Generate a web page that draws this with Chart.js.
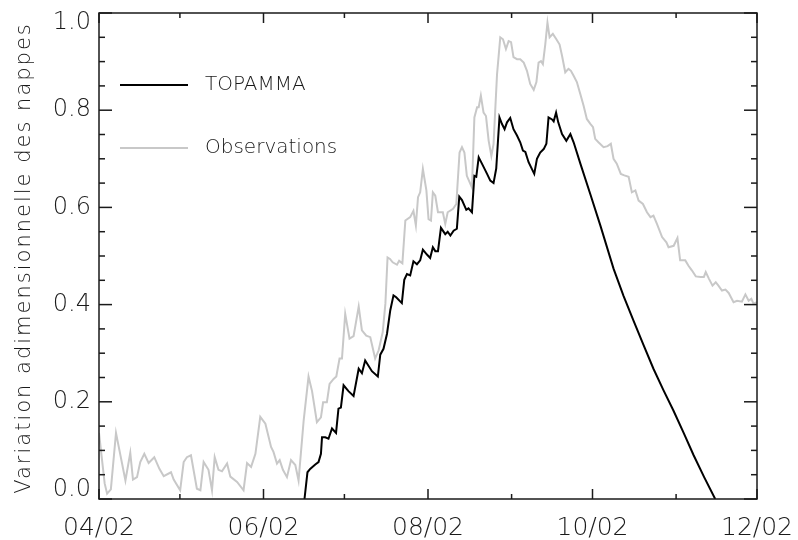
<!DOCTYPE html>
<html><head><meta charset="utf-8">
<script src="https://cdn.jsdelivr.net/npm/chart.js@4.4.0/dist/chart.umd.min.js"></script>
<style>html,body{margin:0;padding:0;background:#fff}#wrap{width:798px;height:540px}</style>
</head><body><div id="wrap"><canvas id="c" width="798" height="540"></canvas></div>
<script>
// x values are days counted from 1 April 2002
const monthTicks = [0,30,61,91,122,153,183,214,244];
const monthLabels = ['04/02','05/02','06/02','07/02','08/02','09/02','10/02','11/02','12/02'];
const yTicks = [0,0.2,0.4,0.6,0.8,1.0];
const yLabels = ['0.0','0.2','0.4','0.6','0.8','1.0'];
const yTitle = 'Variation adimensionnelle des nappes';
const seriesNames = ['TOPAMMA','Observations'];

const obsDays = [0,2.1,3.0,4.4,6.3,9.8,11.6,12.6,14.1,15.3,
16.8,18.4,20.5,22.4,24.0,26.7,27.7,30.1,31.4,32.6,
34.1,36.3,37.6,38.8,40.6,41.9,42.9,44.3,45.6,47.5,
48.7,51.2,53.6,54.9,56.4,58.0,59.8,61.7,63.8,64.7,
66.0,67.0,68.2,69.7,71.2,72.8,74.0,75.9,77.7,79.0,
80.8,82.3,83.1,84.5,85.5,87.0,88.0,89.2,90.1,91.3,
92.9,94.4,96.3,97.5,99.1,100.6,102.4,103.7,105.2,106.2,
107.0,107.9,108.9,110.5,111.3,112.5,113.6,115.4,116.6,117.5,
118.3,119.1,120.1,121.4,122.2,123.1,123.8,124.7,125.7,127.5,
128.4,129.3,131.3,132.5,133.7,134.6,135.5,136.4,138.3,139.2,
140.2,140.8,141.6,142.6,143.5,144.5,145.5,146.3,147.6,148.8,
149.8,150.9,151.9,152.8,153.7,155.0,156.2,157.5,158.7,159.9,
161.2,162.2,163.0,163.9,164.6,165.5,166.3,167.1,168.3,169.6,
170.8,171.7,172.9,174.1,175.0,176.0,177.2,178.5,179.7,180.9,
182.2,183.2,184.0,185.2,187.1,188.6,189.8,190.8,192.0,193.5,
194.8,196.4,197.6,198.9,200.1,201.7,203.2,204.5,205.6,206.9,
208.8,210.4,211.2,213.1,214.5,215.5,217.4,218.6,219.9,221.3,
223.1,224.3,225.0,226.2,227.5,228.7,229.7,231.0,232.3,233.5,
235.3,236.6,238.4,239.7,240.9,241.9,242.7,244.0];
const obsValues = [0.136,0.032,0.011,0.020,0.136,0.038,0.095,0.040,0.045,0.076,
0.093,0.074,0.086,0.062,0.047,0.055,0.040,0.018,0.076,0.086,
0.090,0.021,0.018,0.076,0.060,0.018,0.086,0.060,0.057,0.073,
0.046,0.035,0.018,0.074,0.066,0.093,0.169,0.155,0.107,0.097,
0.073,0.080,0.060,0.045,0.080,0.070,0.038,0.162,0.252,0.222,
0.158,0.168,0.199,0.199,0.237,0.247,0.252,0.289,0.289,0.381,
0.330,0.335,0.396,0.347,0.336,0.333,0.289,0.306,0.343,0.402,
0.497,0.494,0.487,0.482,0.490,0.485,0.573,0.580,0.593,0.563,
0.621,0.631,0.679,0.635,0.576,0.573,0.631,0.624,0.590,0.590,
0.566,0.590,0.597,0.607,0.713,0.724,0.713,0.665,0.641,0.785,
0.806,0.806,0.830,0.795,0.788,0.737,0.706,0.730,0.874,0.950,
0.946,0.926,0.942,0.940,0.909,0.905,0.905,0.898,0.881,0.854,
0.842,0.858,0.898,0.901,0.895,0.936,0.980,0.950,0.957,0.946,
0.935,0.912,0.878,0.885,0.881,0.871,0.858,0.833,0.809,0.782,
0.772,0.765,0.741,0.734,0.724,0.726,0.731,0.700,0.690,0.669,
0.666,0.663,0.631,0.635,0.614,0.607,0.590,0.580,0.583,0.566,
0.539,0.528,0.518,0.521,0.537,0.491,0.491,0.480,0.470,0.458,
0.457,0.457,0.467,0.453,0.439,0.446,0.439,0.429,0.431,0.424,
0.405,0.408,0.406,0.421,0.408,0.412,0.402,0.405];

const topDays = [76.2,77.1,77.3,78.3,80.2,81.4,82.3,82.7,83.9,85.1,
86.4,87.9,88.8,89.7,90.7,92.5,94.4,96.3,97.5,98.7,
101.2,103.4,104.3,105.5,106.8,108.0,109.2,110.2,112.3,113.2,
114.2,115.4,116.6,117.9,119.1,120.1,121.6,122.8,123.8,124.7,
125.7,126.8,128.4,129.3,130.3,131.5,132.7,133.6,134.6,136.2,
137.0,138.3,139.2,139.9,140.8,142.0,143.9,145.1,146.3,147.3,
148.5,149.4,150.4,151.3,152.5,153.7,155.0,156.2,157.2,158.1,
159.3,161.4,162.4,163.6,164.9,165.9,166.7,168.0,168.6,169.5,
170.3,171.7,173.3,174.8,176.0,178.5,182.2,185.9,190.8,194.5,
198.2,201.9,205.6,209.3,213.0,216.8,220.5,224.4,228.5];
const topValues = [0.0,0.045,0.055,0.062,0.071,0.076,0.093,0.127,0.127,0.124,
0.145,0.136,0.186,0.188,0.234,0.222,0.212,0.268,0.259,0.285,
0.263,0.252,0.297,0.309,0.340,0.388,0.419,0.415,0.403,0.451,
0.463,0.460,0.489,0.483,0.491,0.513,0.503,0.496,0.518,0.510,
0.510,0.558,0.545,0.550,0.542,0.552,0.556,0.622,0.615,0.595,
0.598,0.590,0.665,0.663,0.703,0.690,0.669,0.655,0.650,0.680,
0.785,0.772,0.761,0.775,0.784,0.761,0.748,0.734,0.717,0.714,
0.693,0.669,0.700,0.713,0.720,0.731,0.785,0.781,0.777,0.795,
0.775,0.751,0.737,0.751,0.734,0.690,0.627,0.563,0.474,0.418,
0.367,0.317,0.268,0.224,0.182,0.136,0.090,0.045,0.0];

const FONT = "'DejaVu Sans'";
const INK = '#1a1a1a';

const framePlugin = {
  id: 'frame',
  beforeDraw(chart) {
    // keep the end labels of the value axis inside the frame, as in the original
    const y = chart.scales.y;
    const items = y.getLabelItems(chart.chartArea);
    if (items.length) {
      items[0].options.translation[1] -= 9;
      items[items.length - 1].options.translation[1] += 10;
    }
  },
  afterDatasetsDraw(chart) {
    const {ctx, chartArea: a, scales: {x, y}} = chart;
    const seg = (x1, y1, x2, y2) => { ctx.beginPath(); ctx.moveTo(x1, y1); ctx.lineTo(x2, y2); ctx.stroke(); };
    ctx.save();
    ctx.strokeStyle = INK;
    ctx.lineWidth = 1.5;
    ctx.strokeRect(a.left, a.top, a.right - a.left, a.bottom - a.top);
    monthTicks.forEach((v, i) => {
      const px = x.getPixelForValue(v);
      const len = i % 2 === 0 ? 10 : 5;
      seg(px, a.bottom, px, a.bottom - len);
      seg(px, a.top, px, a.top + len);
    });
    for (let k = 0; k <= 20; k++) {
      const py = y.getPixelForValue(k * 0.05);
      const len = k % 4 === 0 ? 13 : 6;
      seg(a.left, py, a.left + len, py);
      seg(a.right, py, a.right - len, py);
    }
    ctx.restore();
  },
  afterDraw(chart) {
    // y axis title with wide letter spacing
    const {ctx, chartArea: a} = chart;
    ctx.save();
    ctx.translate(25, (a.top + a.bottom) / 2 + 2);
    ctx.rotate(-Math.PI / 2);
    ctx.font = '200 21px ' + FONT;
    ctx.letterSpacing = '2px';
    ctx.fillStyle = INK;
    ctx.textAlign = 'center';
    ctx.textBaseline = 'middle';
    ctx.fillText(yTitle, 0, 0);
    ctx.restore();
  }
};

const legendPlugin = {
  id: 'insideLegend',
  afterDraw(chart) {
    const ctx = chart.ctx;
    const rows = [85, 148];
    ctx.save();
    chart.data.datasets.forEach((ds, i) => {
      const yy = rows[i];
      ctx.strokeStyle = ds.borderColor;
      ctx.lineWidth = ds.borderWidth;
      ctx.beginPath(); ctx.moveTo(120, yy); ctx.lineTo(188, yy); ctx.stroke();
      ctx.fillStyle = INK;
      ctx.font = '200 20px ' + FONT;
      ctx.textBaseline = 'middle';
      ctx.textAlign = 'left';
      ctx.fillText(ds.label, 205, yy);
    });
    ctx.restore();
  }
};

new Chart(document.getElementById('c'), {
  type: 'line',
  data: {
    datasets: [
      { label: seriesNames[0], data: topDays.map((d, i) => ({x: d, y: topValues[i]})),
        borderColor: '#000000', borderWidth: 2, pointRadius: 0, tension: 0, fill: false },
      { label: seriesNames[1], data: obsDays.map((d, i) => ({x: d, y: obsValues[i]})),
        borderColor: '#c8c8c8', borderWidth: 2, pointRadius: 0, tension: 0, fill: false }
    ]
  },
  options: {
    responsive: false,
    animation: false,
    devicePixelRatio: 1,
    layout: { padding: { left: 0, top: 13, right: 41, bottom: 0 } },
    plugins: { legend: { display: false }, tooltip: { enabled: false } },
    scales: {
      x: {
        type: 'linear', min: 0, max: 244,
        afterBuildTicks: s => { s.ticks = monthTicks.map(v => ({value: v})); },
        afterFit: s => { s.height = 41; s.paddingLeft = 0; s.paddingRight = 0; s.paddingTop = 0; s.paddingBottom = 0; },
        grid: { display: false, drawTicks: false },
        border: { display: false },
        ticks: {
          autoSkip: false, maxRotation: 0, padding: 14, color: INK,
          font: { family: FONT, size: 25, weight: '200' },
          callback: (v, i) => (i % 2 === 0 ? monthLabels[i] : '')
        }
      },
      y: {
        type: 'linear', min: 0, max: 1,
        afterBuildTicks: s => { s.ticks = yTicks.map(v => ({value: v})); },
        afterFit: s => { s.width = 99; s.paddingLeft = 0; s.paddingRight = 0; s.paddingTop = 0; s.paddingBottom = 0; },
        grid: { display: false, drawTicks: false },
        border: { display: false },
        ticks: {
          padding: 8, color: INK,
          font: { family: FONT, size: 24, weight: '200' },
          callback: (v, i) => yLabels[i]
        }
      }
    }
  },
  plugins: [framePlugin, legendPlugin]
});
</script>
</body></html>
